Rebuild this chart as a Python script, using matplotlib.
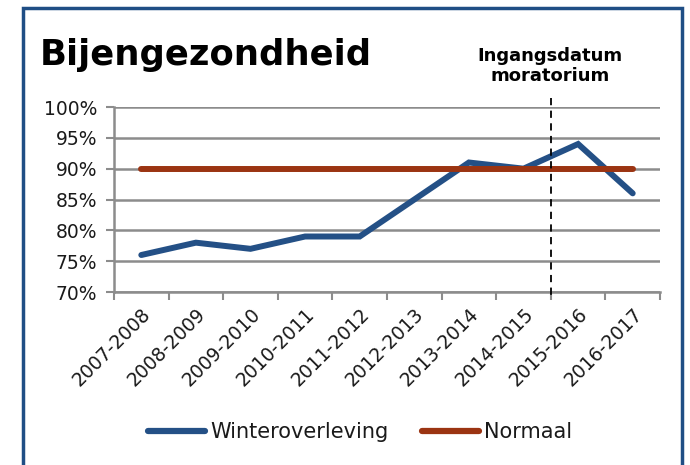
import matplotlib
matplotlib.use("Agg")
import matplotlib.pyplot as plt
from matplotlib.patches import Rectangle
import numpy as np

seasons = ["2007-2008", "2008-2009", "2009-2010", "2010-2011", "2011-2012",
           "2012-2013", "2013-2014", "2014-2015", "2015-2016", "2016-2017"]
winteroverleving = [76, 78, 77, 79, 79, 85, 91, 90, 94, 86]
normaal = [90, 90, 90, 90, 90, 90, 90, 90, 90, 90]
yticks = [70, 75, 80, 85, 90, 95, 100]
moratorium_pos = 7.5

W, H = 690, 465
fig = plt.figure(figsize=(W / 100, H / 100), dpi=100)
fig.patch.set_facecolor("white")

# border
fig.patches.append(Rectangle((23 / W, -0.05), (682 - 23) / W, 1.05 - 8 / H,
                             transform=fig.transFigure, fill=False,
                             edgecolor="#1f4e85", linewidth=2.5, zorder=0))

ax = fig.add_axes([114 / W, 1 - 292 / H, (660 - 114) / W, (292 - 107) / H])
x = np.arange(len(seasons))
grid_c = "#8c8c8c"
txt_c = "#1a1a1a"

ax.plot(x, winteroverleving, color="#245086", lw=4.3, solid_capstyle="round",
        solid_joinstyle="miter", label="Winteroverleving", zorder=3)
ax.plot(x, normaal, color="#9b3412", lw=4.3, solid_capstyle="round",
        label="Normaal", zorder=4)

ax.set_xlim(-0.5, len(seasons) - 0.5)
ax.set_ylim(70, 100)
ax.set_yticks(yticks)
ax.set_yticklabels([f"{v}%" for v in yticks])
ax.set_xticks(np.arange(-0.5, len(seasons), 1.0))
ax.set_xticklabels([])
ax.set_xticks(x, minor=True)
ax.set_xticklabels(seasons, minor=True, rotation=45, ha="right",
                   rotation_mode="anchor")
ax.tick_params(axis="x", which="minor", length=0, pad=9, labelsize=13.5,
               colors=txt_c)
ax.tick_params(axis="x", which="major", length=6, width=1.5, color=grid_c)
ax.tick_params(axis="y", length=6, width=1.5, color=grid_c, labelsize=13.5,
               labelcolor=txt_c, pad=6)
ax.yaxis.grid(True, color=grid_c, lw=1.8)
ax.set_axisbelow(True)
for s in ["top", "right"]:
    ax.spines[s].set_visible(False)
for s in ["left", "bottom"]:
    ax.spines[s].set_color(grid_c)
    ax.spines[s].set_linewidth(1.8)

# moratorium dashed line
ax.plot([moratorium_pos, moratorium_pos], [101.5, 69.0], color="black", lw=1.3,
        ls=(0, (4, 3)), clip_on=False, zorder=5)

fig.text(40 / W, 1 - 65 / H, "Bijengezondheid", fontsize=25.5, fontweight="bold",
         va="baseline", ha="left", color="black")
fig.text(550 / W, 1 - 66 / H, "Ingangsdatum\nmoratorium", fontsize=13,
         fontweight="bold", ha="center", va="center", linespacing=1.2)

leg = fig.legend(loc="center", bbox_to_anchor=(360 / W, 1 - 432 / H), ncol=2,
                 frameon=False, fontsize=15, handlelength=2.75,
                 columnspacing=1.6, handletextpad=0.25)
for t in leg.get_texts():
    t.set_color(txt_c)
for h in leg.get_lines():
    h.set_linewidth(4.5)

fig.savefig("out.png", dpi=100)
